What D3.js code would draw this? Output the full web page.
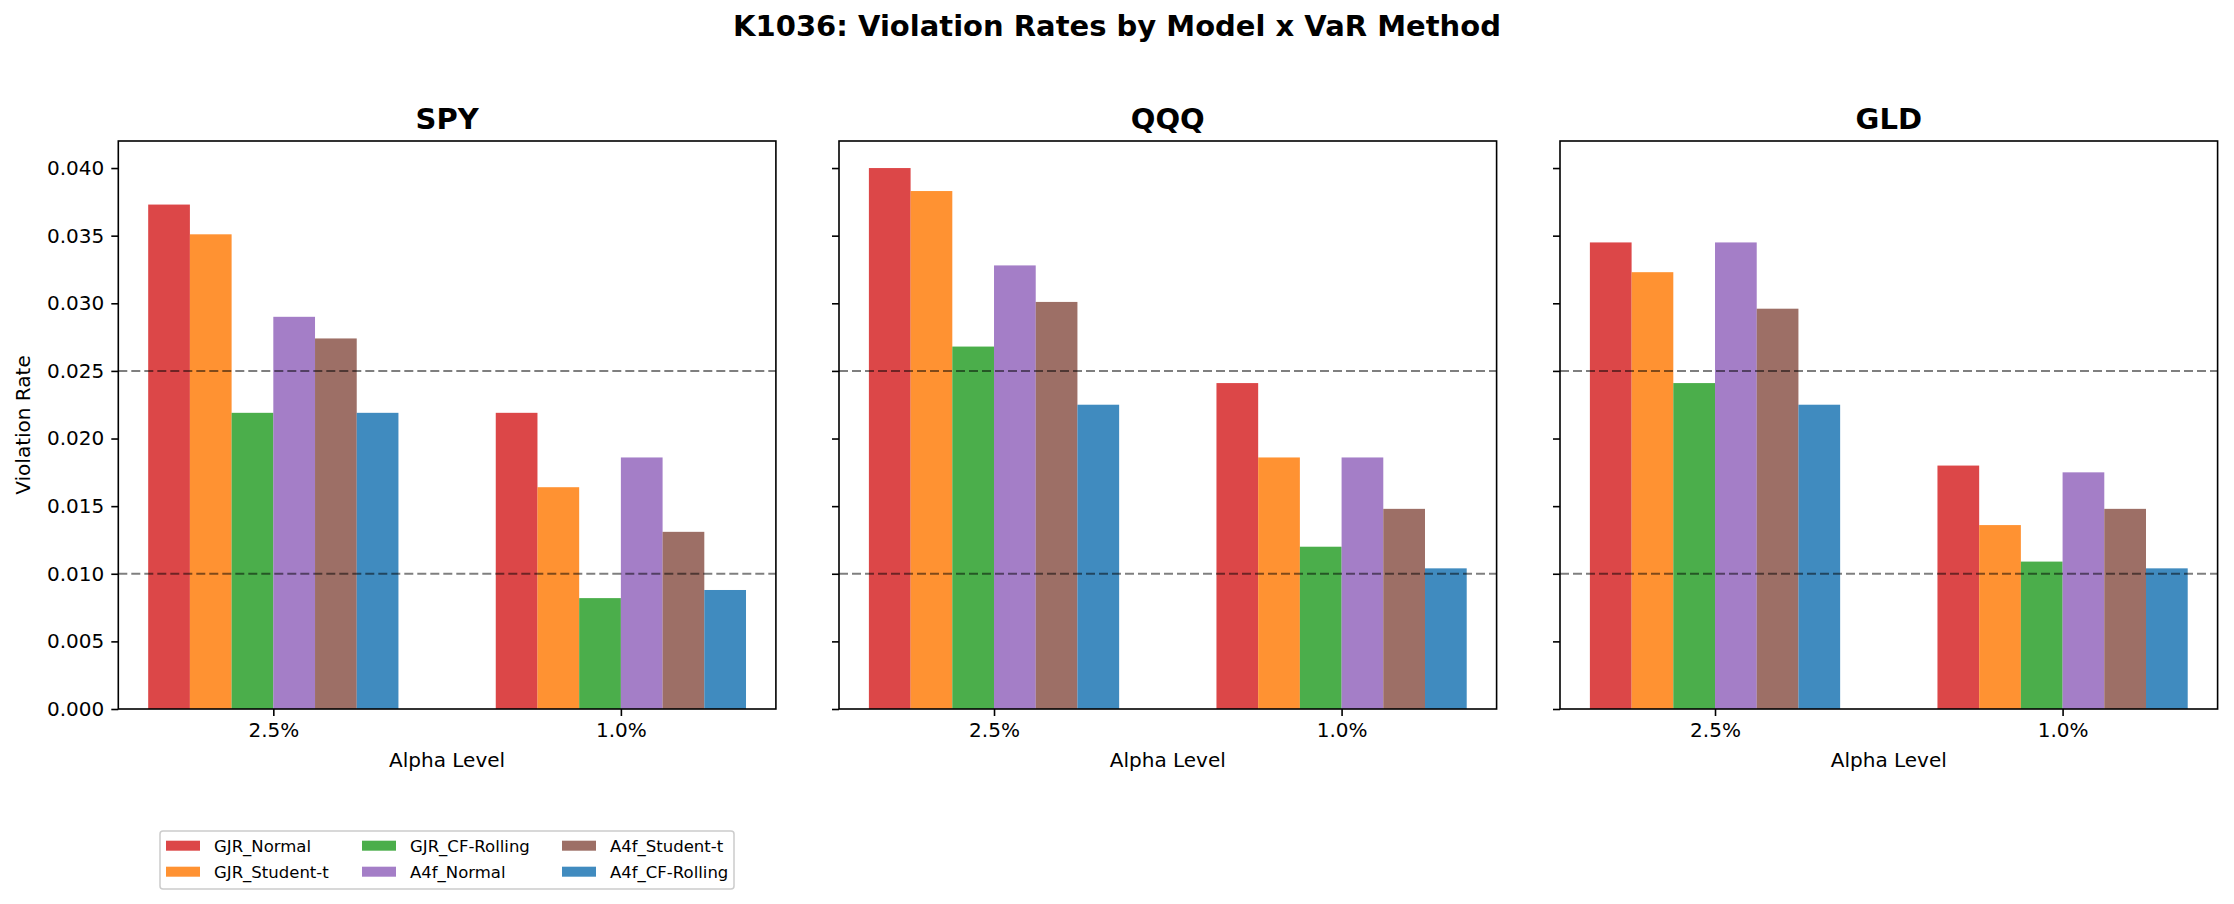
<!DOCTYPE html>
<html><head><meta charset="utf-8">
<script src="https://cdn.jsdelivr.net/npm/d3@7"></script>
<style>body{margin:0;background:#fff}svg{display:block}text{font-family:"DejaVu Sans",sans-serif;fill:#000}</style>
</head><body><svg id="c" width="2234" height="904"></svg>
<script>
const chartTitle = "K1036: Violation Rates by Model x VaR Method";
const assets = ["SPY", "QQQ", "GLD"];
const alphaLevels = ["2.5%", "1.0%"];
const methods = ["GJR_Normal", "GJR_Student-t", "GJR_CF-Rolling", "A4f_Normal", "A4f_Student-t", "A4f_CF-Rolling"];
const methodColors = ["#d62728", "#ff7f0e", "#2ca02c", "#9467bd", "#8c564b", "#1f77b4"];
// rates per method: [alpha 2.5%, alpha 1.0%]
const spyRates = [[0.0373, 0.0219], [0.0351, 0.0164], [0.0219, 0.0082], [0.0290, 0.0186], [0.0274, 0.0131], [0.0219, 0.0088]];
const qqqRates = [[0.0400, 0.0241], [0.0383, 0.0186], [0.0268, 0.0120], [0.0328, 0.0186], [0.0301, 0.0148], [0.0225, 0.0104]];
const gldRates = [[0.0345, 0.0180], [0.0323, 0.0136], [0.0241, 0.0109], [0.0345, 0.0175], [0.0296, 0.0148], [0.0225, 0.0104]];
const targetRates = [0.025, 0.01];
const yTicks = [0.000, 0.005, 0.010, 0.015, 0.020, 0.025, 0.030, 0.035, 0.040];
const yMax = 0.042;
const barWidth = 0.12;

const rateSets = [spyRates, qqqRates, gldRates];
const svg = d3.select("#c");
const FONT = 20;
const panelLefts = [118.3, 839, 1560];
const panelW = 657.6, plotTop = 141, plotBottom = 709;

svg.append("text").attr("x", 1117).attr("y", 36).attr("text-anchor", "middle")
  .attr("font-size", 29).attr("font-weight", "bold").text(chartTitle);

const y = d3.scaleLinear().domain([0, yMax]).range([plotBottom, plotTop]);
const half = methods.length / 2 * barWidth;
const xmin = -half, xmax = alphaLevels.length - 1 + half, mg = (xmax - xmin) * 0.05;

assets.forEach((asset, ai) => {
  const L = panelLefts[ai];
  const x = d3.scaleLinear().domain([xmin - mg, xmax + mg]).range([L, L + panelW]);
  const g = svg.append("g");
  const rates = rateSets[ai];
  methods.forEach((meth, mi) => {
    alphaLevels.forEach((al, gi) => {
      const v = rates[mi][gi];
      const cx = gi + (mi - (methods.length - 1) / 2) * barWidth;
      g.append("rect").attr("x", x(cx - barWidth / 2)).attr("width", x(cx + barWidth / 2) - x(cx - barWidth / 2))
        .attr("y", y(v)).attr("height", y(0) - y(v))
        .attr("fill", methodColors[mi]).attr("fill-opacity", 0.85);
    });
  });
  targetRates.forEach(t => {
    g.append("line").attr("x1", L).attr("x2", L + panelW).attr("y1", y(t)).attr("y2", y(t))
      .attr("stroke", "#000").attr("stroke-opacity", 0.5).attr("stroke-width", 2).attr("stroke-dasharray", "9,4");
  });
  const ya = g.append("g").attr("transform", `translate(${L},0)`)
    .call(d3.axisLeft(y).tickValues(yTicks).tickSize(7).tickPadding(7).tickFormat(ai === 0 ? d3.format(".3f") : () => ""));
  const xa = g.append("g").attr("transform", `translate(0,${plotBottom})`)
    .call(d3.axisBottom(x).tickValues(alphaLevels.map((d, i) => i)).tickSize(7).tickPadding(7).tickFormat((d, i) => alphaLevels[i]));
  [ya, xa].forEach(a => {
    a.select(".domain").remove();
    a.selectAll("line").attr("stroke", "#000").attr("stroke-width", 1.6);
    a.selectAll("text").attr("font-size", FONT).attr("font-family", "DejaVu Sans").attr("fill", "#000");
  });
  g.append("rect").attr("x", L).attr("y", plotTop).attr("width", panelW).attr("height", plotBottom - plotTop)
    .attr("fill", "none").attr("stroke", "#000").attr("stroke-width", 1.6);
  g.append("text").attr("x", L + panelW / 2).attr("y", 128.5).attr("text-anchor", "middle")
    .attr("font-size", 29).attr("font-weight", "bold").text(asset);
  g.append("text").attr("x", L + panelW / 2).attr("y", 767.3).attr("text-anchor", "middle")
    .attr("font-size", FONT).text("Alpha Level");
  if (ai === 0) {
    g.append("text").attr("transform", `translate(30,${(plotTop + plotBottom) / 2}) rotate(-90)`).attr("text-anchor", "middle")
      .attr("font-size", FONT).text("Violation Rate");
  }
});

const lg = svg.append("g");
lg.append("rect").attr("x", 160).attr("y", 831).attr("width", 574).attr("height", 58).attr("rx", 3)
  .attr("fill", "#fff").attr("fill-opacity", 0.8).attr("stroke", "#ccc").attr("stroke-width", 1.5);
const colX = [166, 362, 562];
const rowY = [845.7, 871.7];
methods.forEach((meth, i) => {
  const c = Math.floor(i / 2), r = i % 2;
  lg.append("rect").attr("x", colX[c]).attr("y", rowY[r] - 5).attr("width", 34).attr("height", 10)
    .attr("fill", methodColors[i]).attr("fill-opacity", 0.85);
  lg.append("text").attr("x", colX[c] + 48).attr("y", rowY[r] + 6).attr("font-size", 16.5).text(meth);
});
</script></body></html>
